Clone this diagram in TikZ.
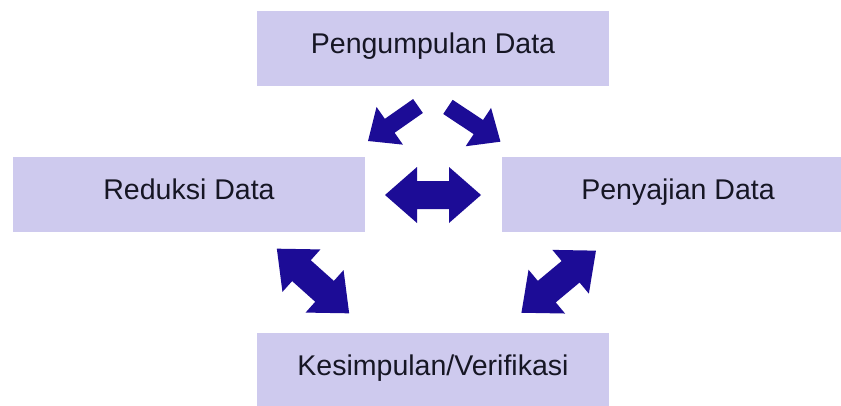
\documentclass[tikz,border=0pt]{standalone}
\usepackage{fontspec}
\setmainfont{Liberation Sans}
\definecolor{boxfill}{RGB}{206,202,238}
\definecolor{arrowblue}{RGB}{28,12,150}
\definecolor{txt}{RGB}{22,22,36}
\newcommand{\blkdbl}[6]{% center, angle, length, head length, head width, shaft width
  \begin{scope}[shift={(#1)}, rotate=#2]
    \fill[arrowblue] ({-#3/2},0) -- ({-#3/2+#4},{#5/2}) -- ({-#3/2+#4},{#6/2})
      -- ({#3/2-#4},{#6/2}) -- ({#3/2-#4},{#5/2}) -- ({#3/2},0)
      -- ({#3/2-#4},{-#5/2}) -- ({#3/2-#4},{-#6/2}) -- ({-#3/2+#4},{-#6/2})
      -- ({-#3/2+#4},{-#5/2}) -- cycle;
  \end{scope}}
\newcommand{\blksgl}[6]{% center, angle, length, head length, head width, shaft width
  \begin{scope}[shift={(#1)}, rotate=#2]
    \fill[arrowblue] ({-#3/2},{#6/2}) -- ({#3/2-#4},{#6/2}) -- ({#3/2-#4},{#5/2})
      -- ({#3/2},0) -- ({#3/2-#4},{-#5/2}) -- ({#3/2-#4},{-#6/2})
      -- ({-#3/2},{-#6/2}) -- cycle;
  \end{scope}}
\begin{document}
\begin{tikzpicture}[x=0.75pt,y=-0.75pt,
  box/.style={fill=boxfill, draw=none, minimum width=264pt, minimum height=56.25pt,
    inner sep=0pt, text=txt, font=\fontsize{21.4}{25}\selectfont,
    text height=0.72em, text depth=0pt}]
\useasboundingbox (0,0) rectangle (841,406);
\clip (0,0) rectangle (841,406);
\fill[white] (0,0) rectangle (841,406);
\node[box] (top) at (433,48.5) {Pengumpulan Data};
\node[box] (left) at (189,194.5) {Reduksi Data};
\node[box] (right) at (678,194.5) {Penyajian Data};
\node[box] (bottom) at (433,370.5) {Kesimpulan/Verifikasi};
\coordinate (aTL) at (393,123.5);
\coordinate (aTR) at (474.2,124.3);
\coordinate (aM) at (433,195);
\coordinate (aBL) at (313,281);
\coordinate (aBR) at (558.7,281.7);
\blksgl{aTL}{215}{61}{26.5}{46}{17}
\blksgl{aTR}{-33.5}{63}{26.5}{46}{17}
\blkdbl{aM}{0}{96}{32}{56}{28}
\blkdbl{aBL}{-41.8}{97}{33}{57}{28}
\blkdbl{aBR}{39.8}{97}{33}{57}{28}
\end{tikzpicture}
\end{document}
